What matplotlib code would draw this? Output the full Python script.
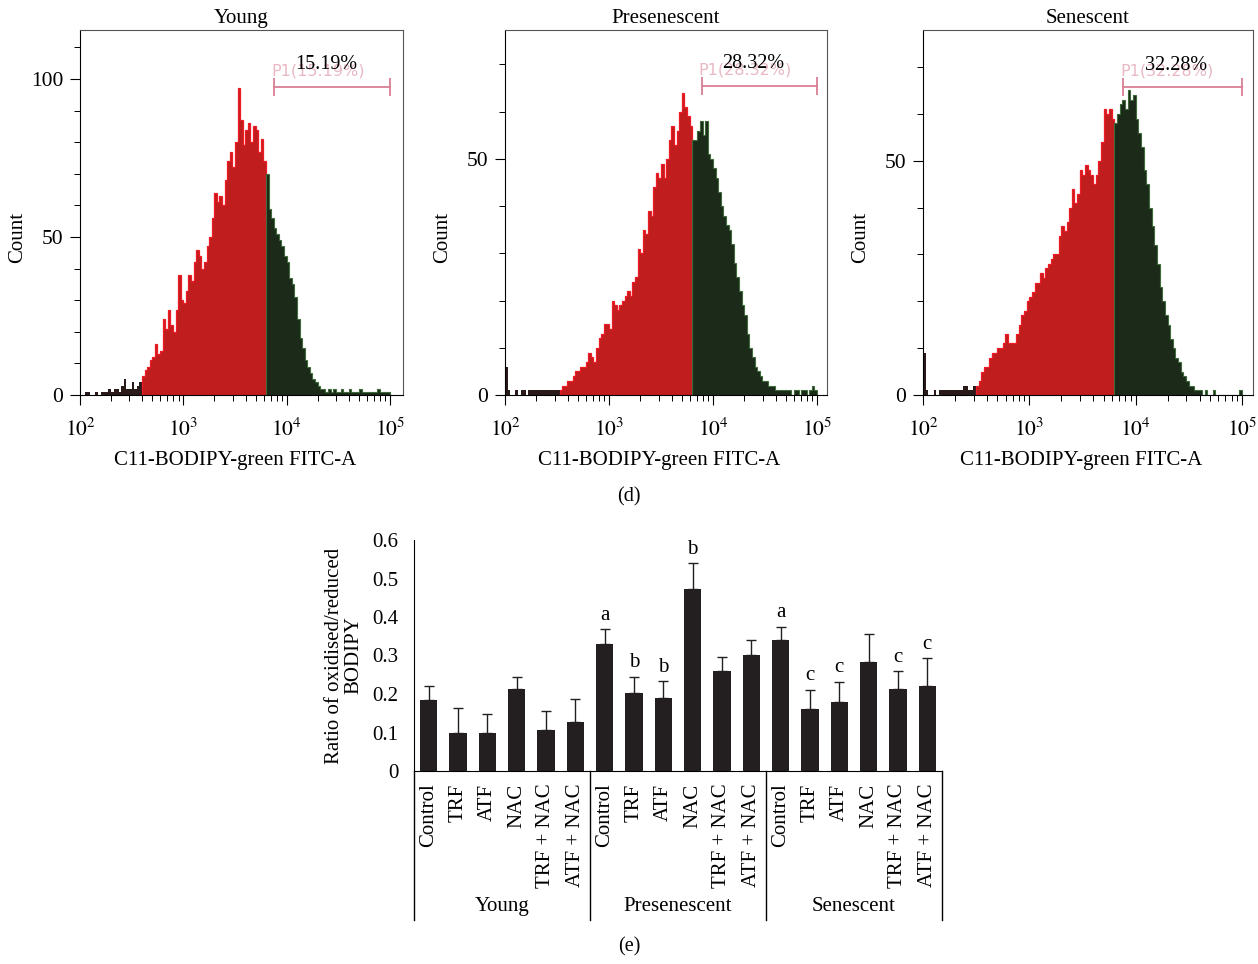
import numpy as np
import matplotlib
matplotlib.use('Agg')
import matplotlib.pyplot as plt
import matplotlib.transforms as mtrans
from matplotlib.ticker import FixedLocator, LogLocator, NullFormatter

plt.rcParams['font.family'] = ['Liberation Serif', 'DejaVu Serif']
plt.rcParams['mathtext.fontset'] = 'stix'
plt.rcParams['font.size'] = 15

# ---- flow histograms, counts per 0.025-decade bin starting at 10^2 ----
log_start = 2.0
bin_step = 0.025

young_counts = [0, 0, 1, 1, 0, 0, 1, 0, 1, 1, 1, 2, 1, 2, 2, 1, 3, 5, 2, 2, 4, 2, 3, 4,
                6, 8, 9, 11, 12, 16, 13, 14, 24, 21, 27, 22, 20, 27, 38, 30, 29, 33, 38, 36,
                42, 46, 44, 40, 42, 47, 50, 56, 64, 61, 63, 60, 68, 74, 77, 72, 80, 97, 87, 79,
                84, 86, 80, 85, 84, 77, 81, 74,
                70, 59, 56, 53, 51, 49, 47, 44, 42, 37, 35, 31, 24, 18, 15, 11, 9, 7, 5, 4,
                3, 2, 2, 1, 2, 1, 2, 1, 1, 2, 1, 1, 2, 1, 1, 1, 2, 1, 1, 1, 1, 1, 1, 2, 1, 1, 1, 1]

pres_counts = [6, 1, 0, 0, 1, 0, 1, 1, 0, 1, 1, 1, 1, 1, 1, 1, 1, 1, 1, 1, 1,
               1, 2, 2, 3, 3, 4, 5, 5, 6, 6, 7, 9, 8, 7, 10, 12, 13, 15, 15, 14, 20, 19, 18,
               19, 20, 21, 22, 21, 24, 25, 31, 30, 35, 34, 39, 38, 44, 47, 46, 49, 46, 50, 54,
               57, 53, 56, 60, 64, 61, 59, 57,
               54, 54, 56, 58, 55, 58, 51, 50, 48, 46, 43, 40, 38, 36, 35, 32, 28, 25, 22, 19,
               17, 13, 10, 8, 6, 5, 4, 3, 3, 2, 2, 2, 1, 1, 1, 1, 1, 1, 0, 1, 1, 0, 1, 1, 0, 1, 2, 1]

sen_counts = [9, 1, 0, 0, 1, 0, 1, 1, 1, 1, 1, 1, 1, 1, 1, 2, 2, 1, 1, 2,
              2, 3, 5, 6, 6, 8, 9, 9, 10, 10, 11, 13, 11, 11, 11, 13, 15, 17, 18, 20, 21, 22,
              24, 24, 26, 25, 27, 28, 29, 30, 30, 34, 36, 35, 37, 40, 44, 41, 43, 48, 47, 49,
              48, 47, 45, 47, 50, 54, 61, 60, 61, 59,
              58, 60, 62, 63, 61, 65, 63, 64, 59, 56, 53, 48, 45, 40, 36, 32, 28, 23, 20, 17,
              15, 12, 10, 8, 7, 5, 4, 3, 2, 2, 1, 1, 1, 0, 1, 0, 0, 1, 0, 0, 0, 0, 0, 0, 0, 0, 0, 1]

panel_titles = ['Young', 'Presenescent', 'Senescent']
panel_counts = [young_counts, pres_counts, sen_counts]
red_start = [24, 21, 20]          # first bin of the red (reduced) part
green_start = [72, 72, 72]        # first bin of the gated P1 part
gate_pct = ['15.19%', '28.32%', '32.28%']
gate_level = [97.5, 65.5, 65.7]
gate_lo = [7600, 7760, 7600]
gate_hi = [100000, 100000, 100000]
y_tops = [115.5, 77.3, 77.9]
y_major = [[0, 50, 100], [0, 50], [0, 50]]

# ---- BODIPY ratio bars ----
groups = ['Young', 'Presenescent', 'Senescent']
treatments = ['Control', 'TRF', 'ATF', 'NAC', 'TRF + NAC', 'ATF + NAC']
ratio_young = [0.185, 0.099, 0.099, 0.213, 0.106, 0.126]
ratio_pres = [0.330, 0.203, 0.190, 0.472, 0.259, 0.302]
ratio_sen = [0.340, 0.162, 0.178, 0.284, 0.213, 0.222]
err_young = [0.037, 0.065, 0.050, 0.031, 0.049, 0.061]
err_pres = [0.038, 0.041, 0.043, 0.067, 0.037, 0.037]
err_sen = [0.035, 0.049, 0.053, 0.072, 0.046, 0.071]
sig_young = ['', '', '', '', '', '']
sig_pres = ['a', 'b', 'b', 'b', '', '']
sig_sen = ['a', 'c', 'c', '', 'c', 'c']

fig = plt.figure(figsize=(12.58, 9.64), dpi=100)

W, H = 1258.0, 964.0
boxes = [(80, 403, 5.126), (505, 827, 5.096), (923, 1253, 5.104)]

for i in range(3):
    left, right, xmax_log = boxes[i]
    ax = fig.add_axes([left / W, 1 - 395 / H, (right - left) / W, 365 / H])
    counts = np.array(panel_counts[i], dtype=float)
    edges = 10 ** (log_start + bin_step * np.arange(len(counts) + 1))
    r0, g0 = red_start[i], green_start[i]

    ax.stairs(counts[:r0 + 1], edges[:r0 + 2], fill=True, color='#2a1a1a')
    ax.stairs(counts[r0:g0], edges[r0:g0 + 1], fill=True, color='#c01d1f')
    ax.stairs(counts[r0:g0], edges[r0:g0 + 1], color='#ee1c24', lw=0.9)
    ax.stairs(counts[g0:], edges[g0:], fill=True, color='#1c2a1a')
    ax.stairs(counts[g0:], edges[g0:], color='#3f6b3a', lw=0.8)

    # P1 gate marker
    pink = '#d87f93'
    ax.plot([gate_lo[i], gate_hi[i]], [gate_level[i], gate_level[i]], color=pink,
            lw=1.3, marker='|', markersize=13, mew=1.3)
    ax.annotate('P1(' + gate_pct[i] + ')', xy=(gate_lo[i], gate_level[i]),
                xytext=(-2, 6), textcoords='offset points', ha='left', va='bottom',
                color=pink, alpha=0.55, fontsize=11.5, family='DejaVu Sans')
    xc = 10 ** ((np.log10(gate_lo[i]) + np.log10(gate_hi[i])) / 2 - 0.06)
    ax.annotate(gate_pct[i], xy=(xc, gate_level[i]), xytext=(0, 9),
                textcoords='offset points', ha='center', va='bottom', color='black',
                fontsize=14.5)

    ax.set_xscale('log')
    ax.set_xlim(100, 10 ** xmax_log)
    ax.set_ylim(0, y_tops[i])
    ax.xaxis.set_major_locator(FixedLocator([1e2, 1e3, 1e4, 1e5]))
    ax.set_xticklabels(['$10^{2}$', '$10^{3}$', '$10^{4}$', '$10^{5}$'])
    ax.xaxis.set_minor_locator(LogLocator(base=10, subs=np.arange(2, 10)))
    ax.xaxis.set_minor_formatter(NullFormatter())
    ax.yaxis.set_major_locator(FixedLocator(y_major[i]))
    ax.yaxis.set_minor_locator(FixedLocator(list(range(0, int(y_tops[i]) + 1, 10))))
    ax.tick_params(which='major', direction='out', length=7, width=0.8, labelsize=15.5)
    ax.tick_params(which='minor', direction='out', length=4, width=0.7)
    ax.tick_params(axis='x', pad=10)
    ax.tick_params(axis='y', pad=5)
    for s in ['top', 'right']:
        ax.spines[s].set_color('#555555')
        ax.spines[s].set_linewidth(0.8)
    ax.set_title(panel_titles[i], fontsize=15, pad=5)
    ax.set_ylabel('Count', fontsize=15)
    ax.yaxis.set_label_coords(-53 / (right - left), 0.433)
    ax.set_xlabel('C11-BODIPY-green FITC-A', fontsize=15)
    ax.xaxis.set_label_coords(0.48, -0.153)

fig.text(629 / W, 1 - 497 / H, '(d)', ha='center', va='center', fontsize=14.5)

# ---- bar chart ----
bx = fig.add_axes([414 / W, 1 - 771 / H, 528 / W, 231 / H])
values = ratio_young + ratio_pres + ratio_sen
errors = err_young + err_pres + err_sen
letters = sig_young + sig_pres + sig_sen
xs = np.arange(len(values))
bx.bar(xs, values, width=0.58, color='#231f20', zorder=2)
bx.errorbar(xs, values, yerr=[np.zeros(len(values)), errors], fmt='none',
            ecolor='#231f20', elinewidth=1.0, capsize=3.5, capthick=1.0, zorder=3)
for x, v, e, t in zip(xs, values, errors, letters):
    if t:
        bx.text(x, v + e + 0.012, t, ha='center', va='bottom', fontsize=15)

bx.set_xlim(-0.5, len(values) - 0.5)
bx.set_ylim(0, 0.6)
bx.set_yticks([0, 0.1, 0.2, 0.3, 0.4, 0.5, 0.6])
bx.set_yticklabels(['0', '0.1', '0.2', '0.3', '0.4', '0.5', '0.6'])
bx.set_xticks(xs)
bx.set_xticklabels(treatments * 3, rotation=90, va='top', ha='center')
bx.tick_params(axis='both', length=0, labelsize=15)
bx.tick_params(axis='x', pad=9)
bx.tick_params(axis='y', pad=11)
bx.spines['top'].set_visible(False)
bx.spines['right'].set_visible(False)
bx.set_ylabel('Ratio of oxidised/reduced\nBODIPY', fontsize=15, linespacing=1.05)
bx.yaxis.set_label_coords(-0.095, 0.5)

tr = mtrans.blended_transform_factory(bx.transData, bx.transAxes)
for k in range(len(groups) + 1):
    xv = -0.5 + 6 * k
    bx.plot([xv, xv], [0, -0.645], transform=tr, color='black', lw=1.0, clip_on=False)
for k, g in enumerate(groups):
    bx.text(2.5 + 6 * k, -0.585, g, transform=tr, ha='center', va='center', fontsize=15)

fig.text(629 / W, 1 - 947 / H, '(e)', ha='center', va='center', fontsize=14.5)

fig.savefig('out.png', dpi=100)
